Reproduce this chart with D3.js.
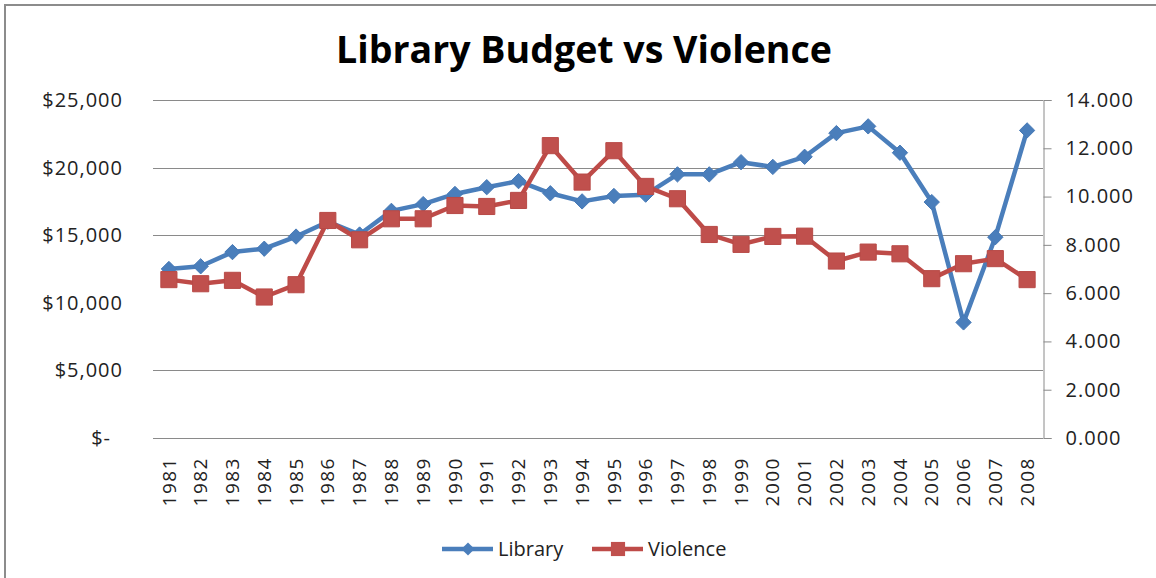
<!DOCTYPE html>
<html>
<head>
<meta charset="utf-8">
<script src="https://cdn.jsdelivr.net/npm/d3@7"></script>
<style>
  body { margin: 0; background: #fff; }
  svg { display: block; font-family: "Open Sans", sans-serif; }
</style>
</head>
<body>
<svg id="chart"></svg>
<script>
const years = [
  "1981", "1982", "1983", "1984", "1985", "1986", "1987", "1988", "1989", "1990",
  "1991", "1992", "1993", "1994", "1995", "1996", "1997", "1998", "1999", "2000",
  "2001", "2002", "2003", "2004", "2005", "2006", "2007", "2008"
];
const library = [
  12500, 12700, 13750, 14000, 14900, 16000, 15050, 16800, 17300, 18050,
  18550, 19000, 18100, 17500, 17900, 18000, 19500, 19500, 20400, 20050,
  20800, 22550, 23050, 21100, 17450, 8550, 14850, 22750
];
const violence = [
  6.56, 6.39, 6.53, 5.84, 6.35, 9.01, 8.21, 9.08, 9.08, 9.63,
  9.59, 9.84, 12.11, 10.6, 11.9, 10.42, 9.91, 8.43, 8.02, 8.35,
  8.36, 7.33, 7.70, 7.63, 6.60, 7.22, 7.43, 6.56
];
const leftTicks = [0, 5000, 10000, 15000, 20000, 25000];
const rightTicks = [0, 2, 4, 6, 8, 10, 12, 14];
const seriesNames = ["Library", "Violence"];

const width = 1156, height = 578;
const blue = "#4a7ebb", red = "#be4b48";
const plot = { left: 153, right: 1043, top: 100, bottom: 438 };

const svg = d3.select("#chart").attr("width", width).attr("height", height);

// outer chart border (runs off the picture on right and bottom)
svg.append("rect")
  .attr("x", 5).attr("y", 5)
  .attr("width", width + 20).attr("height", height + 20)
  .attr("fill", "none")
  .attr("stroke", "#8c8c8c")
  .attr("stroke-width", 2);

svg.append("text")
  .attr("x", 584)
  .attr("y", 63)
  .attr("text-anchor", "middle")
  .attr("font-size", 37)
  .attr("font-weight", "bold")
  .attr("textLength", 496)
  .attr("lengthAdjust", "spacingAndGlyphs")
  .attr("fill", "#000")
  .text("Library Budget vs Violence");

const x = d3.scalePoint().domain(years).range([plot.left, plot.right]).padding(0.5);
const yLeft = d3.scaleLinear().domain([0, 25000]).range([plot.bottom, plot.top]);
const yRight = d3.scaleLinear().domain([0, 14]).range([plot.bottom, plot.top]);

// gridlines (the $10,000 line is not shown in the reference)
svg.append("g")
  .selectAll("line")
  .data(leftTicks.filter(d => d !== 10000))
  .enter()
  .append("line")
  .attr("x1", plot.left)
  .attr("x2", plot.right)
  .attr("y1", d => Math.round(yLeft(d)) + 0.5)
  .attr("y2", d => Math.round(yLeft(d)) + 0.5)
  .attr("stroke", "#8a8a8a")
  .attr("stroke-width", 1);

// left axis labels, accounting style
const leftAxis = svg.append("g")
  .attr("transform", `translate(123,0)`)
  .call(d3.axisLeft(yLeft).tickValues(leftTicks).tickSize(0).tickPadding(0)
    .tickFormat(d => d === 0 ? "$-" : d3.format("$,")(d)));
leftAxis.select(".domain").remove();
leftAxis.selectAll("text")
  .attr("font-family", "Open Sans, sans-serif")
  .attr("font-size", 20)
  .attr("letter-spacing", 1)
  .attr("fill", "#222")
  .attr("dx", d => d === 0 ? -12 : 0);

// right axis
const rightAxis = svg.append("g")
  .attr("transform", `translate(${plot.right + 0.5},0)`)
  .call(d3.axisRight(yRight).tickValues(rightTicks).tickSize(8).tickPadding(14)
    .tickFormat(d3.format(".3f")));
rightAxis.select(".domain").attr("stroke", "#8a8a8a");
rightAxis.selectAll("line").attr("stroke", "#8a8a8a");
rightAxis.selectAll("text")
  .attr("font-family", "Open Sans, sans-serif")
  .attr("font-size", 20)
  .attr("letter-spacing", 1)
  .attr("fill", "#222");

// category labels, rotated
svg.append("g")
  .selectAll("text")
  .data(years)
  .enter()
  .append("text")
  .attr("transform", d => `translate(${x(d)},457) rotate(-90)`)
  .attr("text-anchor", "end")
  .attr("dy", "0.35em")
  .attr("font-size", 19)
  .attr("letter-spacing", 1.5)
  .attr("fill", "#222")
  .text(d => d);

const diamond = d3.symbol().type(d3.symbolDiamond2).size(150);
const square = d3.symbol().type(d3.symbolSquare).size(260);

// Library series
svg.append("path")
  .datum(library)
  .attr("fill", "none")
  .attr("stroke", blue)
  .attr("stroke-width", 4.5)
  .attr("stroke-linejoin", "round")
  .attr("d", d3.line().x((d, i) => x(years[i])).y(d => yLeft(d)));

svg.append("g")
  .selectAll("path")
  .data(library)
  .enter()
  .append("path")
  .attr("d", diamond)
  .attr("transform", (d, i) => `translate(${x(years[i])},${yLeft(d)})`)
  .attr("fill", blue)
  .attr("stroke", "#4679b6")
  .attr("stroke-width", 1);

// Violence series (secondary axis)
svg.append("path")
  .datum(violence)
  .attr("fill", "none")
  .attr("stroke", red)
  .attr("stroke-width", 4.5)
  .attr("stroke-linejoin", "round")
  .attr("d", d3.line().x((d, i) => x(years[i])).y(d => yRight(d)));

svg.append("g")
  .selectAll("path")
  .data(violence)
  .enter()
  .append("path")
  .attr("d", square)
  .attr("transform", (d, i) => `translate(${x(years[i])},${yRight(d)})`)
  .attr("fill", "#c0504d")
  .attr("stroke", "#b84a47")
  .attr("stroke-width", 1);

// legend
const legendX = [442, 592];
const legend = svg.append("g")
  .selectAll("g")
  .data(seriesNames)
  .enter()
  .append("g")
  .attr("transform", (d, i) => `translate(${legendX[i]},549)`);

legend.append("line")
  .attr("x1", 0).attr("x2", 51)
  .attr("stroke", (d, i) => i === 0 ? blue : red)
  .attr("stroke-width", 4.5);

legend.append("path")
  .attr("d", (d, i) => i === 0 ? d3.symbol().type(d3.symbolDiamond2).size(110)() : d3.symbol().type(d3.symbolSquare).size(200)())
  .attr("transform", "translate(26,0)")
  .attr("fill", (d, i) => i === 0 ? blue : "#c0504d");

legend.append("text")
  .attr("x", 56)
  .attr("dy", "0.35em")
  .attr("font-size", 20)
  .attr("fill", "#222")
  .text(d => d);
</script>
</body>
</html>
